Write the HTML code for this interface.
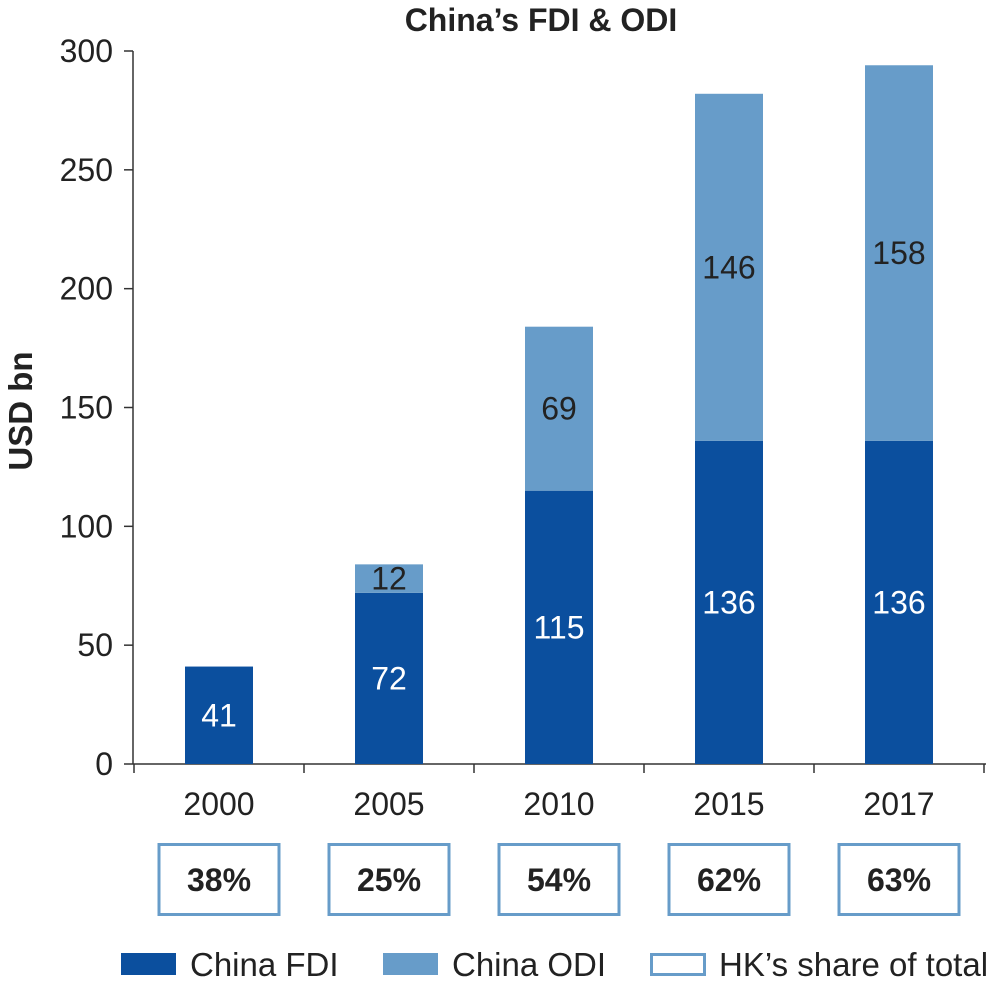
<!DOCTYPE html>
<html><head><meta charset="utf-8"><style>
body{margin:0;background:#fff;}
svg{display:block;font-family:"Liberation Sans",Arial,sans-serif;}
</style></head><body>
<svg id="chart" width="992" height="982" viewBox="0 0 992 982">
<text x="541" y="31" text-anchor="middle" font-size="32" font-weight="bold" fill="#222">China’s FDI &amp; ODI</text>
<text transform="translate(32,411) rotate(-90)" text-anchor="middle" font-size="33" font-weight="bold" fill="#222">USD bn</text>
<g id="axes"></g><g id="bars"></g><g id="boxes"></g>
<g>
<rect x="121" y="953" width="55" height="22" fill="#0b4f9e"/>
<text x="190" y="976" font-size="33" fill="#222">China FDI</text>
<rect x="383" y="953" width="55" height="22" fill="#679cc9"/>
<text x="452" y="976" font-size="33" fill="#222">China ODI</text>
<rect x="651.5" y="954.5" width="53" height="20" fill="none" stroke="#679cc9" stroke-width="3"/>
<text x="719" y="976" font-size="33" fill="#222">HK’s share of total</text>
</g>
</svg>
<script>
const categories=["2000","2005","2010","2015","2017"];
const fdi=[41,72,115,136,136];
const odi=[0,12,69,146,158];
const hkShare=["38%","25%","54%","62%","63%"];
const yTicks=[0,50,100,150,200,250,300];
const NS="http://www.w3.org/2000/svg";
const x0=134,step=170,bw=68,yBase=764,yTop=51,yMax=300;
const y=v=>yBase-(v/yMax)*(yBase-yTop);
const xc=i=>x0+step*(i+0.5);
function mk(tag,attrs,parent,text){const e=document.createElementNS(NS,tag);for(const k in attrs)e.setAttribute(k,attrs[k]);if(text!==undefined)e.textContent=text;parent.appendChild(e);return e;}
const axes=document.getElementById('axes'),bars=document.getElementById('bars'),boxes=document.getElementById('boxes');
let l=mk('line',{x1:133,y1:yTop,x2:133,y2:yBase,stroke:'#333','stroke-width':1.5},axes);


l=mk('line',{x1:133,y1:yBase,x2:986,y2:yBase,stroke:'#333','stroke-width':1.5},axes);


yTicks.forEach(t=>{
 const tk=mk('line',{x1:124,y1:y(t),x2:133,y2:y(t),stroke:'#333','stroke-width':1.5},axes);
 
 
 const tx=mk('text',{x:113,y:y(t)+11,'text-anchor':'end','font-size':32,fill:'#222'},axes,String(t));
 
 
});
for(let i=0;i<=categories.length;i++){
 const tk=mk('line',{x1:x0+step*i,y1:yBase,x2:x0+step*i,y2:yBase+9,stroke:'#333','stroke-width':1.5},axes);
 
 
}
categories.forEach((c,i)=>{
 const cx=xc(i);
 const tx=mk('text',{x:cx,y:815,'text-anchor':'middle','font-size':32,fill:'#222'},axes,c);
 
 
 const b1=mk('rect',{x:cx-bw/2,y:y(fdi[i]),width:bw,height:yBase-y(fdi[i]),fill:'#0b4f9e'},bars);
 
 
 const t1=mk('text',{x:cx,y:(y(fdi[i])+yBase)/2+11,'text-anchor':'middle','font-size':32,fill:'#fff'},bars,String(fdi[i]));
 
 
 if(odi[i]>0){
  const top=y(fdi[i]+odi[i]);
  const b2=mk('rect',{x:cx-bw/2,y:top,width:bw,height:y(fdi[i])-top,fill:'#679cc9'},bars);
  
  
  const t2=mk('text',{x:cx,y:(top+y(fdi[i]))/2+11,'text-anchor':'middle','font-size':32,fill:'#222'},bars,String(odi[i]));
  
  
 }
 const bx=mk('rect',{x:cx-60,y:844.5,width:120,height:70,fill:'none',stroke:'#679cc9','stroke-width':3},boxes);
 
 
 const bt=mk('text',{x:cx,y:891,'text-anchor':'middle','font-size':32,'font-weight':'bold',fill:'#222'},boxes,hkShare[i]);
 
 
});
</script>
</body></html>
